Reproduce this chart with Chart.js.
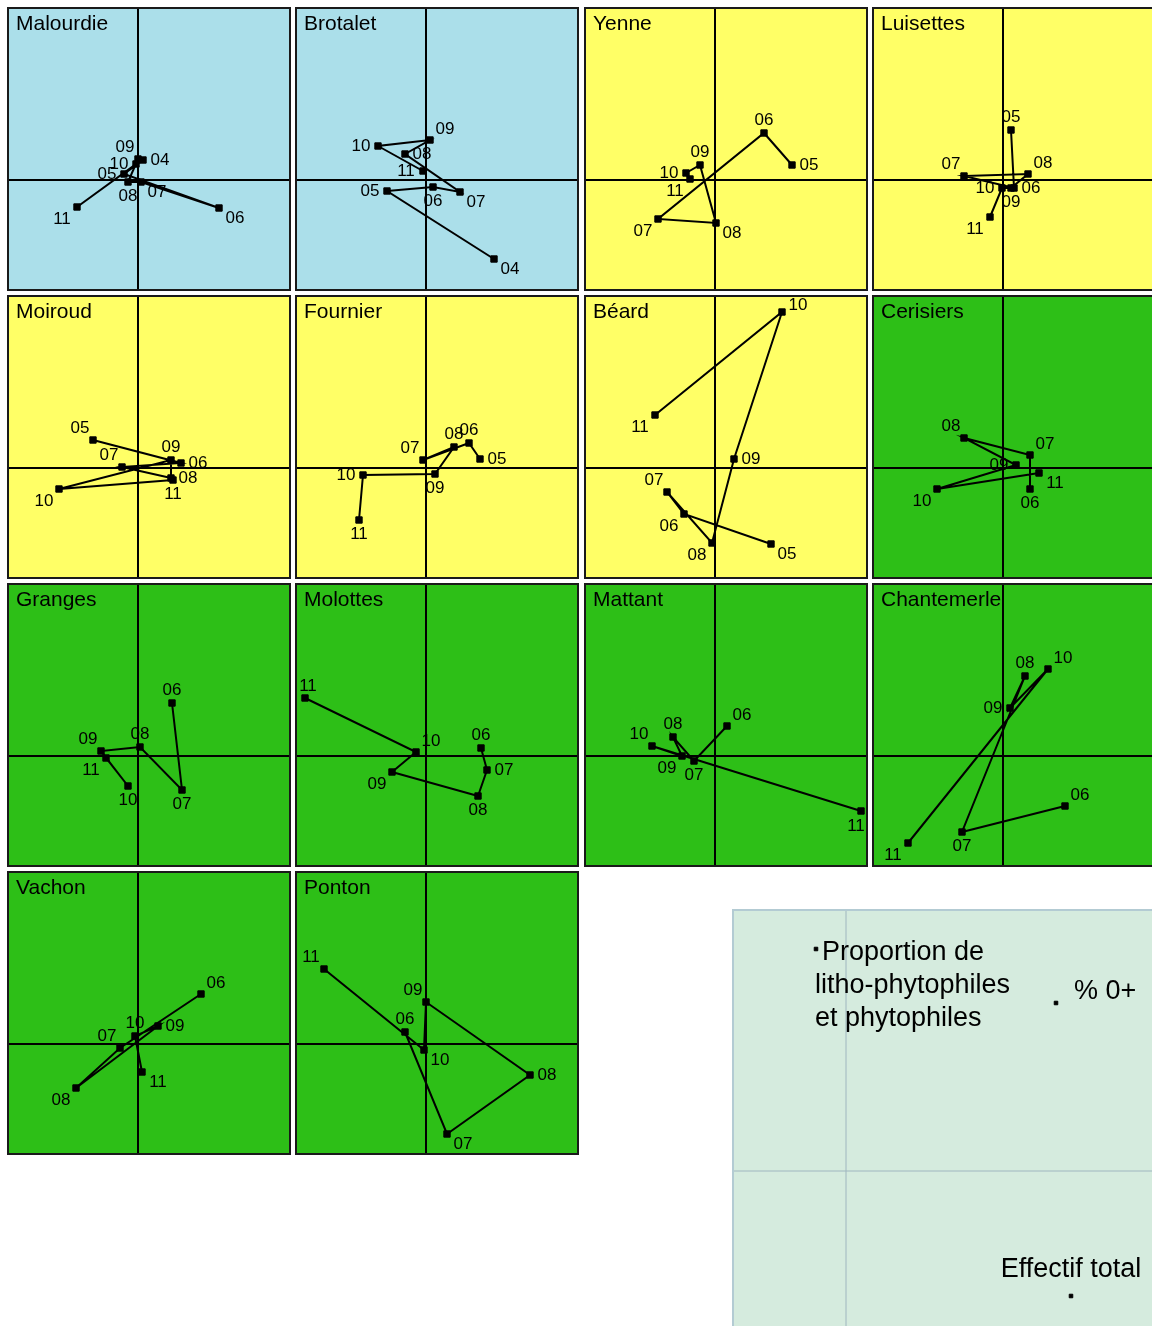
<!DOCTYPE html>
<html>
<head>
<meta charset="utf-8">
<script src="https://cdn.jsdelivr.net/npm/chart.js@4.4.1/dist/chart.umd.min.js"></script>
<style>
  html, body { margin: 0; padding: 0; background: #fff; overflow: hidden; }
  #page { position: relative; width: 1152px; height: 1326px; overflow: hidden; }
  #page canvas { position: absolute; }
</style>
</head>
<body>
<div id="page"></div>
<script>
// trajectories per site : [month, axis 1, axis 2]
const malourdie = [['04', 0.05, 0.20], ['05', -0.14, 0.06], ['06', 0.81, -0.28], ['07', 0.03, -0.02],
  ['08', -0.10, -0.02], ['09', 0.00, 0.21], ['10', -0.02, 0.16], ['11', -0.61, -0.27]];
const brotalet = [['04', 0.68, -0.79], ['05', -0.39, -0.11], ['06', 0.07, -0.07], ['07', 0.34, -0.12],
  ['08', -0.21, 0.26], ['09', 0.04, 0.40], ['10', -0.48, 0.34], ['11', -0.03, 0.09]];
const yenne = [['05', 0.77, 0.15], ['06', 0.49, 0.47], ['07', -0.57, -0.39], ['08', 0.01, -0.43],
  ['09', -0.15, 0.15], ['10', -0.29, 0.07], ['11', -0.25, 0.01]];
const luisettes = [['05', 0.08, 0.50], ['06', 0.11, -0.08], ['07', -0.39, 0.04], ['08', 0.25, 0.06],
  ['09', 0.08, -0.08], ['10', -0.01, -0.08], ['11', -0.13, -0.37]];
const moiroud = [['05', -0.45, 0.28], ['06', 0.43, 0.05], ['07', -0.16, 0.01], ['08', 0.33, -0.10],
  ['09', 0.33, 0.08], ['10', -0.79, -0.21], ['11', 0.35, -0.12]];
const fournier = [['05', 0.54, 0.09], ['06', 0.43, 0.25], ['07', -0.03, 0.08], ['08', 0.28, 0.21],
  ['09', 0.09, -0.06], ['10', -0.63, -0.07], ['11', -0.67, -0.52]];
const beard = [['05', 0.56, -0.76], ['06', -0.31, -0.46], ['07', -0.48, -0.24], ['08', -0.03, -0.75],
  ['09', 0.19, 0.09], ['10', 0.67, 1.56], ['11', -0.60, 0.53]];
const cerisiers = [['06', 0.27, -0.21], ['07', 0.27, 0.13], ['08', -0.39, 0.30], ['09', 0.13, 0.03],
  ['10', -0.66, -0.21], ['11', 0.36, -0.05]];
const granges = [['06', 0.34, 0.53], ['07', 0.44, -0.34], ['08', 0.02, 0.09], ['09', -0.37, 0.05],
  ['10', -0.10, -0.30], ['11', -0.32, -0.02]];
const molottes = [['06', 0.55, 0.08], ['07', 0.61, -0.14], ['08', 0.52, -0.40], ['09', -0.34, -0.16],
  ['10', -0.10, 0.04], ['11', -1.21, 0.58]];
const mattant = [['06', 0.12, 0.30], ['07', -0.21, -0.05], ['08', -0.42, 0.19], ['09', -0.33, 0.00],
  ['10', -0.63, 0.10], ['11', 1.46, -0.55]];
const chantemerle = [['06', 0.62, -0.50], ['07', -0.41, -0.76], ['08', 0.22, 0.80], ['09', 0.07, 0.48],
  ['10', 0.45, 0.87], ['11', -0.95, -0.87]];
const vachon = [['06', 0.63, 0.50], ['07', -0.18, -0.04], ['08', -0.62, -0.44], ['09', 0.20, 0.18],
  ['10', -0.03, 0.08], ['11', 0.04, -0.28]];
const ponton = [['06', -0.21, 0.12], ['07', 0.21, -0.90], ['08', 1.04, -0.31], ['09', 0.00, 0.42],
  ['10', -0.02, -0.06], ['11', -1.02, 0.75]];

// site name, data, group (panel colour)
const sites = [
  ['Malourdie', malourdie, 'bleu'], ['Brotalet', brotalet, 'bleu'], ['Yenne', yenne, 'jaune'], ['Luisettes', luisettes, 'jaune'],
  ['Moiroud', moiroud, 'jaune'], ['Fournier', fournier, 'jaune'], ['Béard', beard, 'jaune'], ['Cerisiers', cerisiers, 'vert'],
  ['Granges', granges, 'vert'], ['Molottes', molottes, 'vert'], ['Mattant', mattant, 'vert'], ['Chantemerle', chantemerle, 'vert'],
  ['Vachon', vachon, 'vert'], ['Ponton', ponton, 'vert']
];

// where each month label sits around its point
const labelSides = {
  'Malourdie': ['e', 'w', 'se', 'se', 's', 'nw', 'w', 'sw'],
  'Brotalet': ['se', 'w', 's', 'se', 'e', 'ne', 'w', 'w'],
  'Yenne': ['e', 'n', 'sw', 'se', 'n', 'w', 'sw'],
  'Luisettes': ['n', 'e', 'nw', 'ne', 's', 'w', 'sw'],
  'Moiroud': ['nw', 'e', 'nw', 'e', 'n', 'sw', 's'],
  'Fournier': ['e', 'n', 'nw', 'n', 's', 'w', 's'],
  'Béard': ['se', 'sw', 'nw', 'sw', 'e', 'en', 'sw'],
  'Cerisiers': ['s', 'ne', 'nw', 'w', 'sw', 'se'],
  'Granges': ['n', 's', 'n', 'nw', 's', 'sw'],
  'Molottes': ['n', 'e', 's', 'sw', 'ne', 'nn'],
  'Mattant': ['ne', 's', 'n', 'sw', 'nw', 'ss'],
  'Chantemerle': ['ne', 's', 'n', 'w', 'ne', 'sw'],
  'Vachon': ['ne', 'nw', 'sw', 'e', 'n', 'se'],
  'Ponton': ['n', 'se', 'e', 'nw', 'se', 'nw']
};

// variables of the legend panel : [label lines, axis 1, axis 2]
const legendVars = [
  [['Proportion de', 'litho-phytophiles', 'et phytophiles'], -0.30, 2.22],
  [['% 0+'], 2.10, 1.68],
  [['Effectif total'], 2.25, -1.25]
];

const xRange = [-1.31, 1.53];
const yRange = [-1.11, 1.73];
const legendX = [-1.14, 3.10];
const legendY = [-1.58, 2.62];

const groupColors = { bleu: '#abdfea', jaune: '#ffff66', vert: '#2dbf17' };
const sideOffsets = {
  n: [0, -13], s: [0, 14], e: [17, 0], w: [-17, 0],
  ne: [15, -11], nw: [-13, -12], se: [16, 10], sw: [-15, 12],
  en: [16, -7], nn: [3, -12], ss: [-5, 15]
};
const font = '"Liberation Sans", Arial, sans-serif';

const panelPlugin = {
  id: 'panel',
  beforeDraw(chart, args, opts) {
    const { ctx, chartArea: a, scales: { x, y } } = chart;
    ctx.save();
    ctx.fillStyle = opts.fill;
    ctx.fillRect(0, 0, chart.width, chart.height);
    const x0 = Math.round(x.getPixelForValue(0));
    const y0 = Math.round(y.getPixelForValue(0));
    ctx.strokeStyle = opts.axisColor;
    ctx.lineWidth = opts.axisWidth;
    ctx.beginPath();
    ctx.moveTo(x0, a.top); ctx.lineTo(x0, a.bottom);
    ctx.moveTo(a.left, y0); ctx.lineTo(a.right, y0);
    ctx.stroke();
    ctx.restore();
  },
  afterDatasetsDraw(chart, args, opts) {
    if (!opts.labels || !opts.labels.length) return;
    const ctx = chart.ctx;
    const pts = chart.getDatasetMeta(0).data;
    ctx.save();
    ctx.fillStyle = '#000';
    ctx.font = opts.labelFont;
    ctx.textBaseline = 'middle';
    ctx.textAlign = 'center';
    pts.forEach((p, i) => {
      const off = sideOffsets[opts.sides[i]] || [16, 0];
      ctx.fillText(opts.labels[i], p.x + off[0], p.y + off[1]);
    });
    ctx.restore();
  },
  afterDraw(chart, args, opts) {
    const ctx = chart.ctx;
    ctx.save();
    ctx.strokeStyle = opts.borderColor;
    ctx.lineWidth = opts.borderWidth;
    const h = opts.borderWidth / 2;
    ctx.strokeRect(h, h, chart.width - 2 * h, chart.height - 2 * h);
    if (opts.title) {
      ctx.fillStyle = '#000';
      ctx.font = '21px ' + font;
      ctx.textBaseline = 'alphabetic';
      ctx.textAlign = 'left';
      ctx.fillText(opts.title, 9, 23);
    }
    ctx.restore();
  }
};

const legendPlugin = {
  id: 'legendPanel',
  afterDatasetsDraw(chart) {
    const ctx = chart.ctx;
    const pts = chart.getDatasetMeta(0).data;
    ctx.save();
    ctx.fillStyle = '#000';
    ctx.font = '27px ' + font;
    ctx.textBaseline = 'middle';
    legendVars.forEach((v, i) => {
      const p = pts[i];
      const lines = v[0];
      if (i === 0) {
        ctx.textAlign = 'left';
        lines.forEach((t, k) => ctx.fillText(t, k === 0 ? p.x + 6 : p.x - 1, p.y + 4 + k * 33));
      } else if (i === 1) {
        ctx.textAlign = 'left';
        ctx.fillText(lines[0], p.x + 18, p.y - 11);
      } else {
        ctx.textAlign = 'center';
        ctx.fillText(lines[0], p.x, p.y - 26);
      }
    });
    ctx.restore();
  }
};

const page = document.getElementById('page');
const colLeft = [7, 295, 584, 872];
const rowTop = [7, 295, 583, 871];

function addCanvas(left, top, w, h) {
  const c = document.createElement('canvas');
  c.width = w; c.height = h;
  c.style.left = left + 'px'; c.style.top = top + 'px';
  c.style.width = w + 'px'; c.style.height = h + 'px';
  page.appendChild(c);
  return c;
}

function baseOptions(xr, yr, panel) {
  return {
    responsive: false,
    devicePixelRatio: 1,
    animation: false,
    events: [],
    layout: { padding: 0, autoPadding: false },
    scales: {
      x: { type: 'linear', min: xr[0], max: xr[1], display: false },
      y: { type: 'linear', min: yr[0], max: yr[1], display: false }
    },
    plugins: {
      legend: { display: false },
      tooltip: { enabled: false },
      panel: panel
    }
  };
}

sites.forEach(([name, data, group], k) => {
  const canvas = addCanvas(colLeft[k % 4], rowTop[Math.floor(k / 4)], 284, 284);
  new Chart(canvas, {
    type: 'scatter',
    data: {
      datasets: [{
        data: data.map(d => ({ x: d[1], y: d[2] })),
        showLine: true,
        borderColor: '#000',
        borderWidth: 2,
        pointStyle: 'rect',
        pointRadius: 4.5,
        pointBorderWidth: 1,
        pointBackgroundColor: '#000',
        pointBorderColor: '#000'
      }]
    },
    options: baseOptions(xRange, yRange, {
      fill: groupColors[group],
      axisColor: '#000', axisWidth: 2,
      borderColor: '#1a1a1a', borderWidth: 2,
      title: name,
      labels: data.map(d => d[0]),
      sides: labelSides[name],
      labelFont: '17px ' + font
    }),
    plugins: [panelPlugin]
  });
});

// legend panel (variables)
const legendCanvas = addCanvas(732, 909, 424, 420);
new Chart(legendCanvas, {
  type: 'scatter',
  data: {
    datasets: [{
      data: legendVars.map(v => ({ x: v[1], y: v[2] })),
      pointStyle: 'rect',
      pointRadius: 2.5,
      pointBorderWidth: 1,
      pointBackgroundColor: '#000',
      pointBorderColor: '#000'
    }]
  },
  options: baseOptions(legendX, legendY, {
    fill: '#d5ebde',
    axisColor: '#9fb6bf', axisWidth: 1,
    borderColor: '#b3cbd3', borderWidth: 2,
    title: null,
    labels: []
  }),
  plugins: [panelPlugin, legendPlugin]
});
</script>
</body>
</html>
